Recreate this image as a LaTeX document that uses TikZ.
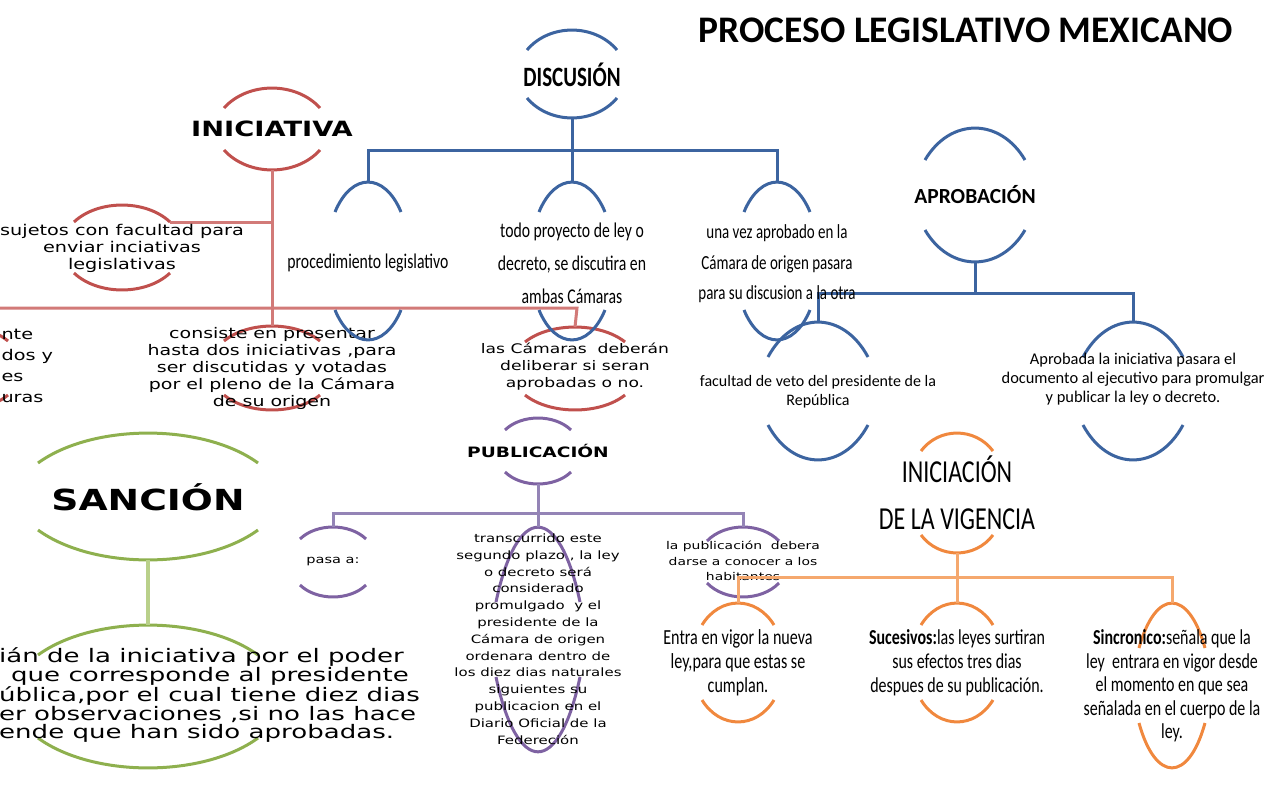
\documentclass[tikz,border=0pt]{standalone}
\usepackage{fontspec}
\setmainfont{Carlito}
\newfontfamily\wide[FakeStretch=1.3]{DejaVu Sans}
\newfontfamily\wider[FakeStretch=1.4]{DejaVu Sans}
\newfontfamily\cond[FakeStretch=0.75]{Carlito}
\definecolor{cR}{HTML}{C0504D}\definecolor{cRl}{HTML}{D27A78}
\definecolor{cB}{HTML}{3C64A0}
\definecolor{cP}{HTML}{7E62A2}\definecolor{cPl}{HTML}{9484B6}
\definecolor{cO}{HTML}{F0883E}\definecolor{cOl}{HTML}{F5A86E}
\definecolor{cG}{HTML}{8EB04E}\definecolor{cGl}{HTML}{B9D08A}
\newcommand\brk[7]{% name, cx, ytop, ybot, hw, h, color
 \draw[arcst,#7] (#2-#5,#3+#6) .. controls (#2-#5*0.5,#3-#6*0.33) and (#2+#5*0.5,#3-#6*0.33) .. (#2+#5,#3+#6);
 \draw[arcst,#7] (#2-#5,#4-#6) .. controls (#2-#5*0.5,#4+#6*0.33) and (#2+#5*0.5,#4+#6*0.33) .. (#2+#5,#4-#6);
 \coordinate (#1t) at (#2,#3); \coordinate (#1b) at (#2,#4);}
\begin{document}
\begin{tikzpicture}[x=1pt,y=-1pt,
 arcst/.style={line width=3pt},
 ln/.style={line width=3pt},
 tw/.style={font=\wide\fontsize{14.8}{17}\selectfont,align=center},
 tc/.style={font=\cond\fontsize{21}{33}\selectfont,align=center}]
\useasboundingbox (0,0) rectangle (1280,798);
\clip (0,0) rectangle (1280,798);
\node[font=\bfseries\fontsize{37.5}{40}\selectfont] (title) at (966,30) {PROCESO LEGISLATIVO MEXICANO};
% red
\brk{ini}{272}{88}{170}{48}{20}{cR}
\brk{suj}{122}{205}{290}{48}{17}{cR}
\brk{con}{272}{326}{410}{48}{15}{cR}
\brk{cam}{575}{327}{410}{50}{15}{cR}
\brk{lef}{-40}{326}{410}{48}{15}{cR}
\coordinate (j1) at (272,222); \coordinate (j2) at (272,308);
\coordinate (jl) at (0,308); \coordinate (jr) at (577,308);
\coordinate (sujr) at (170,222);
\draw[ln,cRl] (inib) -- (j2) -- (cont);
\draw[ln,cRl] (sujr) -- (j1);
\draw[ln,cRl] (jl) -- (jr) -- (camt);
\node[font=\wide\bfseries\fontsize{21}{24}\selectfont] (ini) at (272,129) {INICIATIVA};
\node[tw] (suj) at (122,248) {sujetos con facultad para\\enviar inciativas\\legislativas};
\node[tw,anchor=west,align=left,font=\wide\fontsize{14.8}{21}\selectfont] (lef) at (-2,366) {nte\\dos y\\es\\uras};
\node[tw,font=\wide\fontsize{14.6}{17}\selectfont] (con) at (272,368) {consiste en presentar\\hasta dos iniciativas ,para\\ ser discutidas y votadas\\por el pleno de la Cámara\\de su origen};
\node[tw,font=\wide\fontsize{13.2}{17}\selectfont] (cam) at (575,367) {las Cámaras \ deberán\\deliberar si seran\\aprobadas o no.};
% blue
\brk{dis}{572}{30}{118}{45}{20}{cB}
\brk{pro}{368}{182}{340}{33}{30}{cB}
\brk{tod}{572}{182}{340}{33}{30}{cB}
\brk{una}{777}{182}{340}{33}{30}{cB}
\brk{apr}{975}{128}{262}{50}{32}{cB}
\brk{fac}{818}{322}{460}{50}{35}{cB}
\brk{apb}{1133}{322}{460}{50}{35}{cB}
\coordinate (d1) at (572,150); \coordinate (d2) at (368,150); \coordinate (d3) at (777,150);
\draw[ln,cB] (disb) -- (d1); \draw[ln,cB] (prot) -- (d2) -- (d3) -- (unat);
\draw[ln,cB] (d1) -- (todt);
\coordinate (a1) at (975,293); \coordinate (a2) at (818,293); \coordinate (a3) at (1133,293);
\coordinate (a4) at (850,293);
\draw[ln,cB] (aprb) -- (a1); \draw[ln,cB] (fact) -- (a2) -- (a3) -- (apbt);
\draw[ln,cB] (a2) -- (a4);
\node[font=\cond\bfseries\fontsize{28}{30}\selectfont] (dis) at (572,75) {DISCUSIÓN};
\node[tc] (pro) at (368,263) {procedimiento legislativo};
\node[tc] (tod) at (572,263) {todo proyecto de ley o\\decreto, se discutira en\\ambas Cámaras};
\node[tc,font=\cond\fontsize{20}{30.5}\selectfont] (una) at (777,264) {una vez aprobado en la\\Cámara de origen pasara\\para su discusion a la otra};
\node[font=\bfseries\fontsize{21.5}{24}\selectfont] (apr) at (975,195) {APROBACIÓN};
\node[align=center,font=\fontsize{16}{19}\selectfont] (fac) at (818,392) {facultad de veto del presidente de la\\República};
\node[align=center,font=\fontsize{16.4}{19}\selectfont] (apb) at (1133,379) {Aprobada la iniciativa pasara el\\documento al ejecutivo para promulgar\\y publicar la ley o decreto.};
% purple
\brk{pub}{538}{418}{484}{33}{12}{cP}
\brk{pas}{333}{527}{597}{33}{12}{cP}
\brk{tra}{538}{527}{752}{42}{75}{cP}
\brk{lap}{743}{527}{597}{36}{14}{cP}
\coordinate (p1) at (538,513); \coordinate (p2) at (333,513); \coordinate (p3) at (743,513);
\draw[ln,cPl] (pubb) -- (p1); \draw[ln,cPl] (past) -- (p2) -- (p3) -- (lapt);
\draw[ln,cPl] (p1) -- (trat);
\node[font=\wide\bfseries\fontsize{14.3}{16}\selectfont] (pub) at (538,451) {PUBLICACIÓN};
\node[tw,font=\wide\fontsize{11.2}{12}\selectfont] (pas) at (333,562) {pasa a:};
\node[tw,font=\wide\fontsize{11.5}{16.8}\selectfont] (tra) at (538,639) {transcurrido este\\segundo plazo , la ley\\o decreto será\\considerado\\promulgado \ y el\\presidente de la\\Cámara de origen\\ordenara dentro de\\los diez dias naturales\\siguientes su\\publicacion en el\\Diario Oficial de la\\Federeción};
\node[tw,font=\wide\fontsize{10.7}{15.5}\selectfont] (lap) at (743,561) {la publicación \ debera\\darse a conocer a los\\habitantes};
% orange
\brk{ini2}{957}{433}{553}{36}{18}{cO}
\brk{ent}{738}{603}{722}{36}{22}{cO}
\brk{suc}{957}{603}{722}{36}{22}{cO}
\brk{sin}{1172}{603}{768}{33}{45}{cO}
\coordinate (o1) at (957,577); \coordinate (o2) at (738,577); \coordinate (o3) at (1172,577);
\draw[ln,cOl] (ini2b) -- (o1); \draw[ln,cOl] (entt) -- (o2) -- (o3) -- (sint);
\draw[ln,cOl] (o1) -- (suct);
\node[font=\cond\fontsize{32}{47}\selectfont,align=center] (ini2) at (957,493) {INICIACIÓN\\DE LA VIGENCIA};
\node[tc,font=\cond\fontsize{21.5}{24}\selectfont] (ent) at (738,663) {Entra en vigor la nueva\\ley,para que estas se\\cumplan.};
\node[tc,font=\cond\fontsize{21.3}{24}\selectfont] (suc) at (957,663) {\textbf{Sucesivos:}las leyes surtiran\\sus efectos tres dias\\despues de su publicación.};
\node[tc,font=\cond\fontsize{21.3}{23.5}\selectfont] (sin) at (1172,686) {\textbf{Sincronico:}señala que la\\ley \ entrara en vigor desde\\el momento en que sea\\señalada en el cuerpo de la\\ley.};
% green
\brk{san}{148}{433}{560}{110}{30}{cG}
\brk{sat}{148}{625}{768}{110}{30}{cG}
\draw[line width=4pt,cGl] (sanb) -- (satt);
\node[font=\wide\bfseries\fontsize{29}{32}\selectfont] (san) at (148,497) {SANCIÓN};
\node[font=\wider\fontsize{18.6}{17.8}\selectfont,align=left,anchor=west,inner sep=0pt] (sat) at (-1,695) {ián de la iniciativa por el poder\\\hspace*{12pt}que corresponde al presidente\\ública,por el cual tiene diez dias\\er observaciones ,si no las hace\\ende que han sido aprobadas.};
\end{tikzpicture}
\end{document}
